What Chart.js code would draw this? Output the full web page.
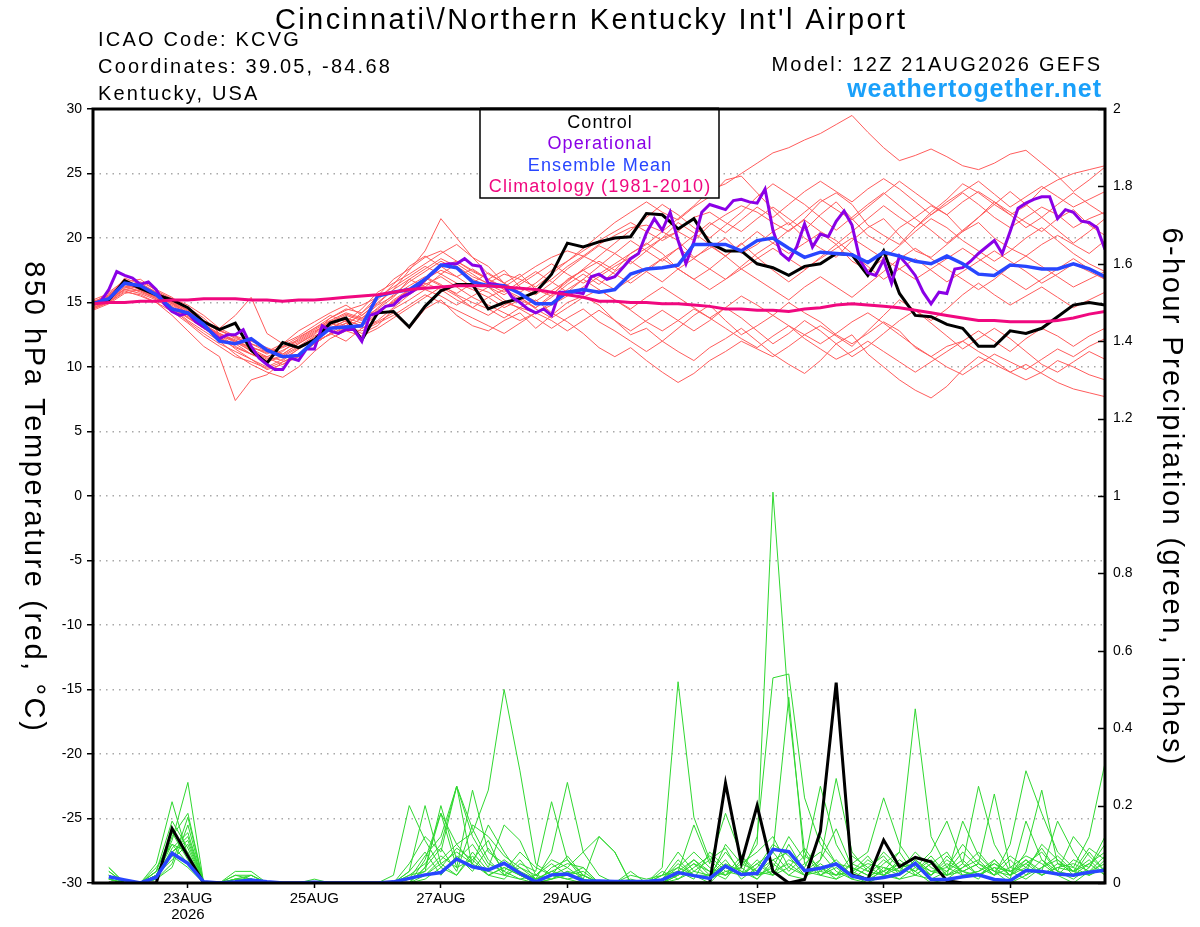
<!DOCTYPE html>
<html lang="en">
<head>
<meta charset="UTF-8">
<title>KCVG GEFS 850 hPa temperature and 6-hour precipitation</title>
<script src="https://cdn.jsdelivr.net/npm/chart.js"></script>
<style>
  html, body { margin: 0; padding: 0; background: #fff; }
  #wrap { position: relative; width: 1200px; height: 927px; }
</style>
</head>
<body>
<div id="wrap"><canvas id="gefsChart" width="1200" height="927"></canvas></div>
<script>
// x = 6-hour step counted from 21AUG2026 12Z (step 0) to 6SEP2026 12Z (step 64)
const dateTickSteps = [6, 14, 22, 30, 42, 50, 58];
const dateTickLabels = [['23AUG', '2026'], '25AUG', '27AUG', '29AUG', '1SEP', '3SEP', '5SEP'];

const legendLabels = ['Control', 'Operational', 'Ensemble Mean', 'Climatology (1981-2010)'];
const legendColors = ['#000000', '#8a00e6', '#2846ff', '#f0087f'];

// 850 hPa temperature (deg C), 6-hourly
const tempControl = [
  14.9,15.2,16.7,16.1,15.6,15.2,14.6,13.5,12.9,13.4,11.3,10.3,11.9,
  11.5,12.1,13.4,13.8,12.1,14.2,14.3,13.1,14.7,15.9,16.4,16.4,14.5,
  15.0,15.3,15.8,17.2,19.6,19.3,19.7,20.0,20.1,21.9,21.8,20.7,21.5,
  19.6,19.0,19.0,18.0,17.7,17.1,17.8,18.0,18.8,18.7,17.1,19.0,15.7,
  14.0,13.9,13.3,13.0,11.6,11.6,12.8,12.6,13.0,13.9,14.8,15.0,14.8
];
const tempMean = [
  14.9,15.3,16.5,16.3,15.6,14.5,14.2,13.3,12.0,11.8,12.2,11.3,10.8,
  10.9,12.0,13.0,13.1,13.2,15.5,15.8,16.0,16.8,17.9,17.7,16.6,16.3,
  16.3,15.7,14.9,14.9,15.8,16.0,15.8,16.0,17.2,17.6,17.7,17.9,19.5,
  19.5,19.5,19.0,19.8,20.0,19.2,18.5,18.9,18.8,18.7,18.1,18.9,18.6,
  18.2,18.0,18.6,18.0,17.2,17.1,17.9,17.8,17.6,17.6,18.0,17.6,17.0
];
const tempClimo = [
  14.9,15.0,15.0,15.1,15.1,15.2,15.2,15.3,15.3,15.3,15.2,15.2,15.1,
  15.2,15.2,15.3,15.4,15.5,15.6,15.8,16.0,16.1,16.2,16.3,16.3,16.3,
  16.2,16.1,16.0,15.8,15.6,15.4,15.1,15.1,15.0,15.0,14.9,14.9,14.8,
  14.7,14.5,14.5,14.4,14.4,14.3,14.5,14.6,14.8,14.9,14.8,14.7,14.6,
  14.4,14.2,14.0,13.8,13.6,13.6,13.5,13.5,13.5,13.6,13.8,14.1,14.3
];
// operational run is 3-hourly (step 0, 0.5, 1, ... 64)
const tempOperational = [
  14.9,15.1,16.0,17.4,17.1,16.9,16.4,16.6,
  16.0,14.9,14.3,14.0,14.2,13.5,13.1,12.7,
  12.2,12.5,12.5,12.9,11.6,10.7,10.2,9.8,
  9.8,10.7,10.5,11.4,11.4,13.2,12.8,12.6,
  12.9,12.9,12.0,14.0,14.2,14.7,14.8,15.4,
  15.7,16.1,16.8,17.3,17.9,18.0,18.0,18.4,
  17.9,17.8,16.5,16.4,16.3,15.4,15.0,14.5,
  14.2,14.5,14.0,15.8,15.8,15.8,15.7,17.0,
  17.2,16.8,17.0,17.7,18.4,18.8,20.4,21.5,
  20.6,22.0,19.8,18.0,19.7,22.0,22.6,22.4,
  22.2,22.9,23.0,22.8,22.7,23.8,20.6,18.8,
  18.3,19.3,21.1,19.3,20.3,20.1,21.3,22.1,
  21.0,18.3,17.3,17.1,18.3,16.5,18.6,17.9,
  17.1,15.8,14.9,15.8,15.7,17.6,17.7,18.2,
  18.8,19.3,19.8,18.8,20.5,22.3,22.7,23.0,
  23.2,23.2,21.5,22.2,22.0,21.3,21.2,20.8,
  19.1
];
// ensemble members, 850 hPa temperature
const tempMembers = [
  [14.8,15.5,16.4,16.0,15.4, 14.6,13.8,13.0,12.2,11.8,11.0,10.4,10.8,11.5,12.3,13.0,13.6,13.2, 14.0,15.2,16.0,16.8,17.5,17.0,16.2,15.8,15.0,14.6,14.2,14.8,15.5, 16.2,17.0,17.8,18.5,19.2,20.0,20.5,19.8,21.0,21.8,22.5,22.0, 21.2,20.5,21.5,22.8,23.5,22.6,21.0,20.2,19.5,20.8,22.0,23.0,24.2,23.5,22.6,21.8,22.5,23.8,24.5,25.0,25.3,25.6],
  [14.5,15.0,15.8,15.6,15.0, 14.0,12.8,11.6,10.8,7.4,9.0,9.4,10.4,10.8,11.8,12.6,12.0,13.0, 13.5,14.2,13.0,14.5,15.2,14.0,13.2,12.8,13.6,14.2,13.0,14.0,15.0, 15.5,14.8,13.6,12.5,13.0,12.0,11.2,10.5,11.5,12.2,13.0,12.0, 11.0,10.2,9.5,10.5,11.8,12.5,11.0,10.0,9.0,8.2,7.6,8.5,9.8,10.8,10.2,9.6,9.0,9.6,10.5,10.0,9.4,9.0],
  [15.0,15.6,16.8,16.2,15.6, 15.0,14.2,13.4,12.8,12.4,12.0,11.5,11.0,11.8,12.6,13.8,14.5,14.2, 15.5,16.8,17.6,18.5,19.0,18.2,17.5,16.8,16.2,17.0,17.8,18.5,19.0, 18.6,19.5,20.2,20.8,21.0,20.5,21.5,22.5,23.7,24.2,25.0,25.8, 26.6,27.0,27.6,28.1,28.8,29.5,28.2,27.0,26.0,26.4,26.9,26.3,25.6,25.3,25.8,26.5,26.8,25.8,24.8,23.6,24.5,25.5],
  [14.6,15.2,16.2,16.5,15.8, 15.2,14.6,13.8,12.6,12.0,11.5,11.2,11.8,12.4,13.2,14.0,13.5,14.5, 15.8,16.5,17.2,18.0,18.8,19.5,18.5,17.8,16.5,15.8,16.5,17.5,18.2, 19.0,19.8,20.5,21.2,20.5,19.8,20.5,21.6,22.0,21.2,20.5,21.5, 22.4,21.5,20.6,21.8,22.8,21.5,20.2,19.5,20.8,21.6,22.5,21.8,20.5,21.6,22.8,22.0,21.2,20.5,21.5,22.2,21.0,20.2],
  [15.0,15.3,16.0,15.7,15.2, 14.5,13.5,12.6,11.8,11.2,10.6,9.8,10.2,10.8,12.0,12.5,13.2,12.6, 13.2,14.5,15.2,16.0,15.5,14.8,15.5,16.2,15.2,14.5,13.8,13.0,13.8, 14.5,13.5,12.8,12.0,11.2,12.0,13.0,14.0,14.8,13.6,12.5,13.2, 14.0,15.0,14.2,13.5,12.5,11.8,12.6,13.5,12.8,11.5,10.8,11.6,12.0,11.2,10.5,9.6,10.2,9.5,8.8,8.3,8.0,7.7],
  [14.7,15.4,16.6,16.8,15.9, 15.3,14.8,14.0,13.0,14.0,15.4,12.6,11.8,12.8,13.5,14.2,14.8,14.0, 15.0,16.0,17.5,19.0,21.5,20.0,18.5,17.2,16.5,17.2,16.0,15.5,16.8, 17.5,18.2,17.5,18.8,19.5,20.5,19.8,18.5,19.2,20.0,18.8,19.5, 20.5,21.2,20.0,19.2,18.5,19.8,20.8,21.5,20.2,19.0,18.5,19.5,20.5,21.2,20.0,19.2,18.6,19.5,20.2,19.5,18.8,19.8],
  [14.9,15.6,16.3,15.8,15.3, 14.8,14.0,13.2,12.5,11.6,11.0,10.8,11.3,11.9,12.7,13.4,13.0,13.8, 14.8,15.5,16.3,17.0,16.4,15.6,15.0,14.5,13.8,14.6,15.2,14.2,13.5, 12.6,11.5,10.8,11.5,10.5,9.6,8.8,9.5,10.5,11.2,12.0,11.4, 10.8,11.6,12.5,13.2,12.4,11.6,12.8,14.0,15.2,14.4,13.6,14.5,15.6,16.5,15.6,14.8,15.5,16.2,15.4,14.6,15.2,15.8],
  [14.6,15.1,16.0,16.3,15.6, 15.0,14.4,13.6,12.9,12.2,11.8,11.2,11.5,12.0,12.8,13.3,14.0,13.6, 14.4,15.0,15.8,16.6,17.8,18.2,17.4,16.8,17.5,16.2,15.6,16.5,17.6, 18.5,19.4,18.8,18.0,19.0,20.0,21.2,20.4,19.5,18.6,19.5,20.5, 19.6,18.8,19.6,20.4,19.5,18.2,17.5,18.4,19.4,20.5,21.5,20.8,19.8,19.0,18.2,19.0,20.0,20.8,19.8,18.8,18.0,17.4],
  [15.0,15.4,16.5,16.0,15.5, 14.6,13.6,12.8,12.0,11.0,10.2,9.6,9.2,10.0,11.2,12.2,12.8,12.4, 13.0,13.8,14.6,15.4,16.2,15.5,14.6,14.0,14.8,15.4,14.5,13.8,14.6, 15.4,16.0,15.2,14.4,13.5,12.8,13.6,14.5,13.8,13.0,12.2,11.5, 12.4,13.2,12.2,11.4,10.6,11.2,12.0,11.2,10.4,9.6,10.4,11.2,12.0,12.8,12.0,11.2,12.2,13.0,12.4,11.6,12.4,13.0],
  [14.8,15.3,16.9,16.4,15.8, 15.2,14.4,13.4,12.4,12.0,11.4,10.8,10.5,11.4,12.2,13.2,13.8,13.4, 14.6,15.6,16.6,17.4,18.2,17.6,16.8,16.2,15.6,16.4,17.2,18.0,17.2, 16.5,17.2,18.0,18.8,19.6,18.8,17.6,16.8,17.6,18.6,19.6,18.5, 17.5,16.6,17.5,18.5,19.5,20.5,21.5,22.5,21.6,20.8,21.8,22.6,23.5,22.6,21.6,20.8,21.6,22.4,21.8,20.8,21.5,22.0],
  [14.5,15.0,16.1,16.6,16.0, 15.4,14.5,13.6,13.0,12.4,11.6,11.0,11.6,12.3,13.0,13.8,14.4,14.8, 15.4,16.2,17.0,17.8,17.2,16.5,16.0,15.4,14.6,15.2,16.0,16.8,17.8, 18.6,18.0,17.2,16.5,17.4,18.4,19.2,18.4,17.6,16.8,17.8,18.8, 19.6,20.6,21.4,20.5,19.8,18.8,17.8,16.8,17.6,18.4,17.5,16.6,17.4,18.2,19.0,18.2,17.4,16.5,17.2,18.0,17.4,16.8],
  [14.8,15.2,16.0,15.9,15.4, 14.9,14.2,13.3,12.4,11.4,10.6,10.0,10.6,11.4,12.1,12.9,13.4,13.0, 13.6,14.6,15.6,16.4,17.0,16.2,15.4,14.8,14.2,13.6,14.2,15.0,16.0, 16.8,16.0,15.2,14.5,15.4,16.2,15.4,14.6,13.8,14.6,15.5,14.8, 14.0,13.2,12.5,11.8,12.6,13.5,14.2,13.4,12.5,11.6,10.8,10.0,9.4,10.2,11.0,10.4,9.8,10.6,11.4,10.8,11.6,12.2],
  [15.1,15.5,16.6,16.2,15.7, 15.1,14.3,13.5,12.8,12.3,11.8,11.4,11.0,11.8,12.5,13.6,14.2,13.8, 14.5,15.4,16.8,17.6,18.4,17.8,17.0,16.5,17.2,16.8,16.2,17.2,18.2, 19.2,20.2,21.2,22.0,22.8,22.0,21.4,22.4,23.2,24.5,24.8,23.5, 22.2,21.0,22.0,23.0,22.2,21.4,22.4,23.4,24.4,23.5,22.6,21.8,22.8,23.6,22.8,21.8,20.8,21.6,22.6,23.5,22.6,21.8],
  [14.7,15.2,16.2,15.9,15.3, 14.5,13.9,13.0,12.2,11.5,11.0,10.5,10.9,11.6,12.4,13.0,13.6,13.2, 14.2,15.0,16.0,16.5,16.0,15.2,14.6,15.4,16.0,15.4,14.6,15.4,16.4, 17.2,16.4,17.4,18.2,17.4,16.6,17.6,18.4,19.4,18.6,17.6,16.8, 16.0,15.2,16.2,17.0,16.2,15.4,16.4,17.4,18.4,19.2,18.4,17.6,16.8,16.0,16.8,17.8,18.6,17.8,17.0,16.2,16.8,17.4],
  [14.9,15.8,16.7,16.1,15.5, 14.7,13.8,13.1,12.6,12.0,11.2,10.6,11.2,12.2,13.0,13.6,13.2,14.2, 15.2,16.4,17.8,18.6,17.8,17.0,17.6,16.8,16.0,15.2,14.6,15.6,16.6, 17.6,18.6,19.6,20.6,21.6,22.6,21.8,20.8,20.0,21.0,22.0,23.2, 24.2,23.4,22.6,21.6,20.6,21.6,22.6,23.5,22.5,21.5,20.6,19.6,20.6,21.6,22.6,23.6,22.6,21.6,20.6,19.6,20.5,21.5],
  [14.6,15.0,15.9,15.5,15.0, 14.3,13.4,12.4,11.6,10.8,10.4,9.9,10.4,11.0,11.8,12.6,13.0,12.8, 13.4,14.0,14.8,15.6,15.0,14.4,13.8,13.2,12.6,13.4,14.2,13.6,12.8, 13.6,14.4,13.6,12.8,13.6,14.4,13.6,12.8,13.6,14.6,13.8,12.8, 11.8,12.6,13.6,12.8,11.8,10.8,11.6,12.6,13.6,14.4,13.4,12.4,11.4,12.2,13.0,12.2,11.2,10.2,9.6,10.4,11.2,10.6],
  [15.2,15.7,16.5,16.0,15.6, 15.0,14.1,13.2,12.5,11.9,11.3,10.7,10.2,11.0,11.8,12.6,13.4,14.0, 14.9,16.0,16.8,16.2,17.2,18.0,17.2,16.4,15.8,16.6,17.4,16.6,15.8, 16.8,17.8,18.8,19.8,19.0,18.2,19.2,20.2,21.2,20.4,21.4,22.4, 21.6,22.6,23.6,24.4,23.6,22.8,23.8,24.6,23.8,22.8,21.8,22.8,23.6,24.4,23.4,22.4,23.2,24.0,23.2,22.4,23.0,23.6],
  [14.4,14.9,15.7,16.0,15.6, 14.9,14.0,13.3,12.6,12.1,11.5,11.1,11.6,12.1,12.9,13.5,14.1,13.7, 14.3,15.1,15.9,16.9,16.3,15.7,16.5,17.3,16.5,15.7,15.1,15.9,16.7, 17.5,16.7,16.0,16.8,17.6,18.4,17.6,16.8,16.0,16.8,17.6,18.4, 19.2,18.4,17.6,18.4,19.2,20.0,19.2,18.4,17.6,16.8,17.6,18.4,19.2,18.4,17.6,16.8,16.0,16.8,17.6,18.4,17.6,16.8]
];

// 6-hour precipitation (inches); first accumulation ends 21AUG 18Z (step 1)
const precipControl = [
  null,0,0,0,0,0.141,0.07,0,0,0,0,0,0,
  0,0,0,0,0,0,0,0,0,0,0,0,0,
  0,0,0,0,0,0,0,0,0,0,0,0,0,
  0,0.258,0.052,0.2,0.03,0,0.009,0.133,0.518,0.021,0.009,0.111,0.042,
  0.066,0.055,0.006,0,0,0,0,0,0,0,0,0,0
];
const precipMean = [
  null,0.016,0.008,0,0.015,0.077,0.051,0.003,0,0.003,0.008,0.003,0,
  0,0.002,0,0,0,0,0.003,0.012,0.021,0.027,0.062,0.042,0.034,
  0.051,0.025,0.003,0.021,0.023,0.006,0.005,0.004,0.004,0.004,0.008,0.027,0.019,
  0.012,0.044,0.022,0.025,0.087,0.081,0.032,0.038,0.049,0.018,0.009,0.014,0.023,
  0.051,0.009,0.009,0.016,0.021,0.009,0.006,0.032,0.03,0.023,0.02,0.028,0.033
];
const precipMembers = [
  [null,0.01,0,0,0.03,0.08,0.12,0,0,0,0.01,0,0, 0,0,0,0,0,0,0,0,0.04,0.18,0.10,0.05,0.02, 0.04,0.02,0,0.01,0.03,0,0,0,0,0,0,0.02,0.05, 0.01,0.03,0.04,0.10,1.01,0.45,0.08,0.02,0.04,0.01,0,0.02,0.05, 0.03,0,0.01,0.04,0.08,0.03,0,0.02,0.06,0.02,0,0.03,0.05],
  [null,0.03,0,0,0.01,0.12,0.18,0,0,0.01,0.02,0,0, 0,0,0,0,0,0,0,0.05,0.12,0.08,0.25,0.14,0.06, 0.02,0.01,0,0.04,0.06,0.02,0,0,0,0,0.01,0.06,0.02, 0,0.04,0.02,0.12,0.53,0.54,0.22,0.10,0.05,0.02,0,0.04,0.02, 0.06,0.02,0.05,0.03,0.01,0.06,0.02,0.04,0.09,0.03,0.02,0.05,0.08],
  [null,0,0,0,0.02,0.06,0.10,0,0,0,0,0,0, 0,0,0,0,0,0,0,0.01,0.03,0.20,0.06,0.10,0.04, 0.15,0.11,0.02,0.06,0.04,0.08,0.12,0.08,0,0,0,0.03,0.15, 0.05,0.18,0.07,0.02,0.08,0.48,0.05,0.02,0.01,0.03,0.07,0.02,0.01, 0.04,0.08,0.16,0.05,0.02,0.04,0.01,0.16,0.06,0.03,0.01,0.04,0.10],
  [null,0.04,0,0,0.04,0.10,0.05,0,0,0.03,0.03,0,0, 0,0.01,0,0,0,0,0,0.03,0.20,0.05,0.02,0.08,0.03, 0.06,0.03,0.01,0.02,0.01,0,0,0,0.01,0,0.04,0.52,0.17, 0.06,0.02,0.04,0.01,0.05,0.02,0.01,0.06,0.14,0.04,0.02,0.03,0.01, 0.02,0.05,0.03,0.08,0.04,0.02,0.06,0.02,0.04,0.07,0.03,0.02,0.04],
  [null,0.02,0,0,0.01,0.09,0.13,0,0,0.01,0,0,0, 0,0,0,0,0,0,0,0,0.02,0.06,0.10,0.13,0.24, 0.50,0.29,0.05,0.02,0.04,0.01,0,0,0,0,0.01,0.02,0.06, 0.02,0.08,0.03,0.02,0.04,0.12,0.06,0.25,0.10,0.03,0.01,0.05,0.08, 0.02,0.01,0.03,0.06,0.02,0.05,0.03,0.01,0.04,0.06,0.02,0.08,0.03],
  [null,0.01,0,0,0.02,0.11,0.26,0,0,0,0.01,0,0, 0,0,0,0,0,0,0,0,0.01,0.04,0.09,0.06,0.02, 0.04,0.02,0.01,0.08,0.26,0.08,0.02,0,0,0,0,0.03,0.01, 0.08,0.04,0.02,0.05,0.02,0.10,0.03,0.06,0.27,0.08,0.03,0.02,0.04, 0.05,0.03,0.02,0.05,0.25,0.10,0.03,0.05,0.02,0.04,0.03,0.06,0.02],
  [null,0.02,0,0,0.05,0.21,0.07,0,0,0,0.02,0,0, 0,0,0,0,0,0,0.02,0.20,0.11,0.04,0.02,0.07,0.02, 0.01,0.05,0.03,0.21,0.06,0.01,0,0,0.03,0,0,0.02,0.05, 0.03,0.01,0.06,0.02,0.03,0.05,0.02,0.04,0.01,0.05,0.08,0.22,0.10, 0.04,0.02,0.07,0.03,0.05,0.23,0.04,0.03,0.10,0.06,0.03,0.05,0.02],
  [null,0.02,0,0,0.03,0.16,0.09,0,0,0,0,0,0, 0,0,0,0,0,0,0,0.02,0.05,0.10,0.25,0.04,0.03, 0.02,0.06,0.01,0.03,0.02,0.04,0,0,0,0,0.02,0.04,0.02, 0.01,0.10,0.05,0.03,0.02,0.06,0.04,0.12,0.05,0.02,0.06,0.03,0.08, 0.45,0.12,0.04,0.02,0.03,0.06,0.02,0.08,0.24,0.05,0.04,0.02,0.06],
  [null,0,0,0,0.01,0.05,0.17,0,0,0.01,0.01,0,0, 0,0,0,0,0,0,0,0,0.06,0.18,0.04,0.24,0.08, 0.05,0.02,0,0.01,0.03,0.02,0,0,0,0,0,0.01,0.03, 0.02,0.05,0.03,0.01,0.06,0.08,0.03,0.02,0.05,0.04,0.02,0.06,0.03, 0.08,0.04,0.02,0.03,0.05,0.02,0.10,0.29,0.18,0.08,0.04,0.12,0.31],
  [null,0.03,0,0,0.02,0.07,0.04,0,0,0.02,0.01,0,0, 0,0,0,0,0,0,0,0.01,0.07,0.12,0.25,0.12,0.05, 0.03,0.01,0.02,0.05,0.02,0.01,0.12,0.08,0,0,0.01,0.05,0.02, 0.02,0.06,0.01,0.04,0.10,0.07,0.02,0.03,0.06,0.02,0.01,0.03,0.05, 0.03,0.06,0.02,0.16,0.07,0.03,0.02,0.06,0.03,0.16,0.08,0.02,0.04],
  [null,0.04,0,0,0.03,0.13,0.06,0,0,0.02,0.02,0,0, 0,0,0,0,0,0,0,0,0.04,0.09,0.03,0.15,0.12, 0.07,0.04,0.02,0.01,0.02,0.03,0,0,0.02,0.01,0.02,0.08,0.03, 0.06,0.09,0.02,0.05,0.08,0.03,0.07,0.04,0.02,0.05,0.03,0.08,0.04, 0.02,0.05,0.08,0.02,0.03,0.05,0.02,0.05,0.08,0.03,0.12,0.07,0.03],
  [null,0.01,0,0,0.02,0.10,0.08,0,0,0,0,0,0, 0,0,0,0,0,0,0,0.01,0.02,0.05,0.08,0.05,0.15, 0.08,0.02,0.01,0.03,0.05,0.04,0,0,0,0,0.02,0.03,0.06, 0.03,0.02,0.07,0.03,0.06,0.02,0.05,0.08,0.03,0.01,0.04,0.07,0.02, 0.06,0.03,0.04,0.10,0.05,0.03,0.07,0.04,0.02,0.05,0.03,0.09,0.06],
  [null,0.01,0,0,0.01,0.04,0.15,0,0,0.01,0.01,0,0, 0,0,0,0,0,0,0,0.03,0.08,0.02,0.07,0.03,0.09, 0.03,0.08,0.04,0.02,0.01,0.02,0,0,0,0,0.03,0.01,0.04, 0.07,0.03,0.02,0.06,0.02,0.04,0.09,0.03,0.02,0.07,0.04,0.02,0.06, 0.03,0.07,0.02,0.04,0.06,0.02,0.04,0.07,0.05,0.02,0.06,0.04,0.12],
  [null,0.02,0,0,0.02,0.08,0.11,0,0,0,0.01,0,0, 0,0,0,0,0,0,0,0.02,0.03,0.07,0.04,0.06,0.11, 0.02,0.04,0.01,0.02,0.07,0.02,0,0,0,0,0.01,0.04,0.08, 0.04,0.02,0.05,0.08,0.12,0.04,0.02,0.05,0.02,0.03,0.05,0.04,0.03, 0.05,0.02,0.06,0.03,0.02,0.04,0.03,0.06,0.02,0.04,0.05,0.03,0.07]
];

const FONT = "'Liberation Sans', Arial, Helvetica, sans-serif";
Chart.defaults.font.family = FONT;
Chart.defaults.color = '#000';

// turn a value list into {x, y} points, step = fraction of a 6-hour step
function toPoints(values, step) {
  return values.map((v, i) => ({ x: i * step, y: v }));
}

function lineSet(label, values, step, axis, color, width, order) {
  return {
    label: label,
    data: toPoints(values, step),
    yAxisID: axis,
    borderColor: color,
    borderWidth: width,
    pointRadius: 0,
    tension: 0,
    fill: false,
    spanGaps: false,
    order: order
  };
}

const datasets = [];
tempMembers.forEach((m, k) => datasets.push(lineSet('member ' + (k + 1), m, 1, 'yT', '#ff5c5c', 1, 6)));
precipMembers.forEach((m, k) => datasets.push(lineSet('precip member ' + (k + 1), m, 1, 'yP', '#30d830', 1, 5)));
datasets.push(lineSet('Control', tempControl, 1, 'yT', '#000000', 3, 4));
datasets.push(lineSet('Control precip', precipControl, 1, 'yP', '#000000', 3, 4));
datasets.push(lineSet('Operational', tempOperational, 0.5, 'yT', legendColors[1], 3, 3));
datasets.push(lineSet('Ensemble Mean', tempMean, 1, 'yT', legendColors[2], 3.5, 2));
datasets.push(lineSet('Ensemble Mean precip', precipMean, 1, 'yP', legendColors[2], 3.5, 2));
datasets.push(lineSet('Climatology', tempClimo, 1, 'yT', legendColors[3], 3, 1));

function spacedText(ctx, text, x, y, font, color, align, spacing) {
  ctx.font = font;
  ctx.fillStyle = color;
  ctx.textAlign = align;
  const hasSpacing = 'letterSpacing' in ctx;
  if (hasSpacing) ctx.letterSpacing = spacing + 'px';
  let dx = 0;
  if (hasSpacing && align === 'right') dx = spacing;
  if (hasSpacing && align === 'center') dx = spacing / 2;
  ctx.fillText(text, x + dx, y);
  if (hasSpacing) ctx.letterSpacing = '0px';
}

const decorations = {
  id: 'decorations',
  beforeDraw(chart) {
    const ctx = chart.ctx;
    ctx.save();
    ctx.fillStyle = '#fff';
    ctx.fillRect(0, 0, chart.width, chart.height);
    ctx.restore();
  },
  afterDatasetsDraw(chart) {
    const { ctx, chartArea: a } = chart;
    const yP = chart.scales.yP;
    ctx.save();
    // inward tick marks on the precipitation axis
    ctx.strokeStyle = '#000';
    ctx.lineWidth = 1.5;
    yP.ticks.forEach(t => {
      const y = Math.round(yP.getPixelForValue(t.value)) + 0.5;
      ctx.beginPath();
      ctx.moveTo(a.right - 7, y);
      ctx.lineTo(a.right, y);
      ctx.stroke();
    });
    // plot frame
    ctx.lineWidth = 3;
    ctx.strokeRect(a.left, a.top, a.right - a.left, a.bottom - a.top);

    // legend box
    const bx = 480, bw = 239, by = a.top, bh = 89;
    ctx.fillStyle = '#fff';
    ctx.fillRect(bx, by, bw, bh);
    ctx.lineWidth = 1.5;
    ctx.strokeRect(bx, by, bw, bh);
    ctx.lineWidth = 3;
    ctx.beginPath(); ctx.moveTo(bx, by); ctx.lineTo(bx + bw, by); ctx.stroke();
    ctx.textBaseline = 'alphabetic';
    legendLabels.forEach((lab, k) => {
      spacedText(ctx, lab, bx + bw / 2, by + 18.5 + k * 21.5, '18px ' + FONT, legendColors[k], 'center', 1.1);
    });
    ctx.restore();
  },
  afterDraw(chart) {
    const ctx = chart.ctx;
    ctx.save();
    ctx.textBaseline = 'alphabetic';
    spacedText(ctx, "Cincinnati\\/Northern Kentucky Int'l Airport", 590, 29, '29px ' + FONT, '#000', 'center', 2.4);
    spacedText(ctx, 'ICAO Code: KCVG', 98, 46, '20px ' + FONT, '#000', 'left', 2.2);
    spacedText(ctx, 'Coordinates: 39.05, -84.68', 98, 73, '20px ' + FONT, '#000', 'left', 2.2);
    spacedText(ctx, 'Kentucky, USA', 98, 100, '20px ' + FONT, '#000', 'left', 2.2);
    spacedText(ctx, 'Model: 12Z 21AUG2026 GEFS', 1100, 71, '20px ' + FONT, '#000', 'right', 2.2);
    spacedText(ctx, 'weathertogether.net', 1101, 97, 'bold 25px ' + FONT, '#1aa0fa', 'right', 0.9);

    // axis titles, both read top to bottom
    ctx.textBaseline = 'middle';
    ctx.save();
    ctx.translate(33, 496);
    ctx.rotate(Math.PI / 2);
    spacedText(ctx, '850 hPa Temperature (red, \u00B0C)', 0, 0, '29px ' + FONT, '#000', 'center', 2.6);
    ctx.restore();
    ctx.save();
    ctx.translate(1171, 496);
    ctx.rotate(Math.PI / 2);
    spacedText(ctx, '6-hour Precipitation (green, inches)', 0, 0, '29px ' + FONT, '#000', 'center', 2.4);
    ctx.restore();
    ctx.restore();
  }
};

new Chart(document.getElementById('gefsChart'), {
  type: 'line',
  data: { datasets: datasets },
  plugins: [decorations],
  options: {
    responsive: false,
    devicePixelRatio: 1,
    animation: false,
    parsing: true,
    layout: { padding: { top: 109, left: 0, right: 0, bottom: 0 } },
    plugins: { legend: { display: false }, tooltip: { enabled: false } },
    scales: {
      x: {
        type: 'linear',
        min: 0,
        max: 64,
        afterBuildTicks: axis => { axis.ticks = dateTickSteps.map(v => ({ value: v })); },
        afterFit: s => { s.height = 44; },
        ticks: {
          autoSkip: false,
          maxRotation: 0,
          padding: 3,
          color: '#000',
          font: { size: 15, lineHeight: 1.05 },
          callback: v => dateTickLabels[dateTickSteps.indexOf(v)]
        },
        grid: { drawOnChartArea: false, drawTicks: true, tickLength: 5, tickColor: '#000', tickWidth: 1.5 },
        border: { display: false }
      },
      yT: {
        position: 'left',
        min: -30,
        max: 30,
        afterFit: s => { s.width = 93; },
        ticks: { stepSize: 5, padding: 5, color: '#000', font: { size: 14 } },
        grid: { color: '#a8a8a8', lineWidth: 1.5, drawTicks: true, tickLength: 6, tickColor: '#000', tickWidth: 1.5 },
        border: { display: false, dash: [1.5, 5] }
      },
      yP: {
        position: 'right',
        min: 0,
        max: 2,
        afterFit: s => { s.width = 95; },
        ticks: { stepSize: 0.2, padding: 8, color: '#000', font: { size: 14 }, callback: v => String(Math.round(v * 10) / 10) },
        grid: { drawOnChartArea: false, drawTicks: false },
        border: { display: false }
      }
    }
  }
});
</script>
</body>
</html>
